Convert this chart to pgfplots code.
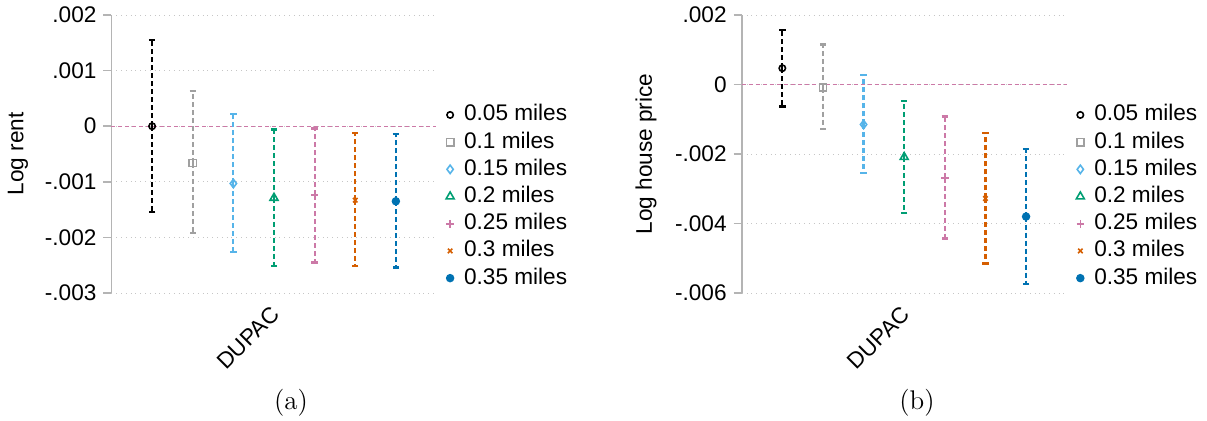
\documentclass[border=0pt]{standalone}
\usepackage{fontspec}
\setsansfont{Liberation Sans}
\usepackage{pgfplots}
\pgfplotsset{compat=1.18}
\definecolor{cblack}{HTML}{000000}
\definecolor{cgray}{HTML}{A0A0A0}
\definecolor{clblue}{HTML}{56B4E9}
\definecolor{cgreen}{HTML}{009E73}
\definecolor{cpink}{HTML}{CC79A7}
\definecolor{corange}{HTML}{D55E00}
\definecolor{cblue}{HTML}{0072B2}
\definecolor{caxis}{HTML}{B4B4B4}
\newcommand{\chartfont}{\sffamily\fontsize{11.3}{13}\selectfont}
\pgfplotsset{
  myaxis/.style={
    scale only axis, width=162.5pt, height=139pt,
    xmin=0, xmax=8,
    axis x line*=bottom, axis y line*=left,
    x axis line style={draw=none},
    xtick={4}, xticklabels={DUPAC},
    xtick style={draw=none},
    xticklabel style={rotate=45, anchor=north east, font=\chartfont, xshift=0.7pt, yshift=3.5pt},
    y axis line style={caxis, line width=0.8pt, -},
    ytick style={caxis, line width=0.8pt},
    tick align=outside, major tick length=4pt,
    yticklabel style={font=\chartfont},
    scaled y ticks=false,
    ymajorgrids, major grid style={dotted, gray!45, line width=0.5pt},
    clip=false,
    ylabel style={font=\chartfont, anchor=center},
    legend cell align=left,
    legend style={draw=none, fill=none, at={(1.01,0.347)}, anchor=west, font=\chartfont,
      row sep=3.6pt, column sep=3pt, nodes={inner ysep=0pt, text height=8pt, text depth=2pt}},
    legend image code/.code={\draw[mark repeat=2,mark phase=2,##1] plot coordinates {(0pt,0pt) (3pt,0pt) (6pt,0pt)};},
  },
  eb/.style={only marks, line width=0.8pt,
    error bars/y dir=both, error bars/y explicit,
    error bars/error bar style={line width=1.1pt, dash pattern=on 2.5pt off 1.5pt},
    error bars/error mark options={solid, rotate=90, mark size=1.6pt, line width=1.1pt}},
}
\begin{document}
\begin{tikzpicture}
\useasboundingbox (0,0) rectangle (603.5pt,210pt);
% panel (a)
\begin{axis}[myaxis, at={(55.75pt,63.5pt)}, anchor=south west,
  ymin=-0.003, ymax=0.002,
  ytick={-0.003,-0.002,-0.001,0,0.001,0.002},
  yticklabels={-.003,-.002,-.001,0,.001,.002},
  ylabel={Log rent},
  ylabel style={at={(axis description cs:-0.288,0.5)}}]
\addplot[forget plot, no marks, color=cpink, dash pattern=on 2pt off 1.5pt, line width=0.7pt] coordinates {(0,0) (8,0)};
\addplot[eb, color=cblack, mark=o, mark size=1.6pt] coordinates {(1,0) += (0,0.00155) -= (0,0.00155)};
\addplot[eb, color=cgray, mark=square, mark size=1.8pt] coordinates {(2,-0.00066) += (0,0.00129) -= (0,0.00126)};
\addplot[eb, color=clblue, mark=diamond, mark size=2.1pt] coordinates {(3,-0.00103) += (0,0.00125) -= (0,0.00123)};
\addplot[eb, color=cgreen, mark=triangle, mark size=2.3pt] coordinates {(4,-0.00129) += (0,0.00123) -= (0,0.00123)};
\addplot[eb, color=cpink, mark=+, mark size=1.9pt] coordinates {(5,-0.00124) += (0,0.00120) -= (0,0.00121)};
\addplot[eb, color=corange, mark=x, mark size=1.6pt] coordinates {(6,-0.00133) += (0,0.00121) -= (0,0.00119)};
\addplot[eb, color=cblue, mark=*, mark size=1.7pt] coordinates {(7,-0.00135) += (0,0.00121) -= (0,0.00119)};
\legend{0.05 miles,0.1 miles,0.15 miles,0.2 miles,0.25 miles,0.3 miles,0.35 miles}
\end{axis}
% panel (b)
\begin{axis}[myaxis, at={(370.85pt,63.5pt)}, anchor=south west,
  ymin=-0.006, ymax=0.002,
  ytick={-0.006,-0.004,-0.002,0,0.002},
  yticklabels={-.006,-.004,-.002,0,.002},
  ylabel={Log house price},
  ylabel style={at={(axis description cs:-0.294,0.5)}}]
\addplot[forget plot, no marks, color=cpink, dash pattern=on 2pt off 1.5pt, line width=0.7pt] coordinates {(0,0) (8,0)};
\addplot[eb, color=cblack, mark=o, mark size=1.6pt] coordinates {(1,0.00047) += (0,0.00111) -= (0,0.00110)};
\addplot[eb, color=cgray, mark=square, mark size=1.8pt] coordinates {(2,-0.00009) += (0,0.00124) -= (0,0.00120)};
\addplot[eb, color=clblue, mark=diamond, mark size=2.1pt] coordinates {(3,-0.00115) += (0,0.00142) -= (0,0.00139)};
\addplot[eb, color=cgreen, mark=triangle, mark size=2.3pt] coordinates {(4,-0.00209) += (0,0.00161) -= (0,0.00161)};
\addplot[eb, color=cpink, mark=+, mark size=1.9pt] coordinates {(5,-0.00269) += (0,0.00177) -= (0,0.00174)};
\addplot[eb, color=corange, mark=x, mark size=1.6pt] coordinates {(6,-0.00328) += (0,0.00188) -= (0,0.00187)};
\addplot[eb, color=cblue, mark=*, mark size=1.7pt] coordinates {(7,-0.00380) += (0,0.00195) -= (0,0.00193)};
\legend{0.05 miles,0.1 miles,0.15 miles,0.2 miles,0.25 miles,0.3 miles,0.35 miles}
\end{axis}
\node[font=\rmfamily\fontsize{13.5}{15}\selectfont] at (145.5pt,8.5pt) {(a)};
\node[font=\rmfamily\fontsize{13.5}{15}\selectfont] at (458.5pt,8.5pt) {(b)};
\end{tikzpicture}
\end{document}
